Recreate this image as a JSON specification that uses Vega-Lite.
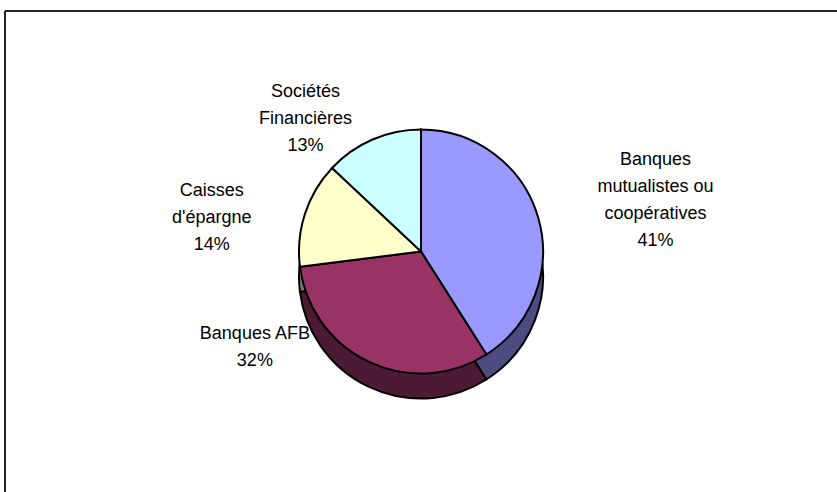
{
  "$schema": "https://vega.github.io/schema/vega-lite/v6.json",
  "width": 832,
  "height": 481,
  "padding": {"left": 5, "top": 11, "right": 0, "bottom": 0},
  "autosize": {"type": "none"},
  "background": "white",
  "config": {
    "view": {"stroke": null},
    "text": {"font": "Liberation Sans", "fontSize": 18, "lineHeight": 27, "lineBreak": "\n", "align": "center", "baseline": "middle", "color": "black"}
  },
  "data": {
    "values": [
      {"cat": "Banques mutualistes ou coopératives", "value": 41, "n": 1, "label": "Banques\nmutualistes ou\ncoopératives\n41%"},
      {"cat": "Banques AFB", "value": 32, "n": 2, "label": "Banques AFB\n32%"},
      {"cat": "Caisses d'épargne", "value": 14, "n": 3, "label": "Caisses\nd'épargne\n14%"},
      {"cat": "Sociétés Financières", "value": 13, "n": 4, "label": "Sociétés\nFinancières\n13%"}
    ]
  },
  "layer": [
    {
      "data": {"values": [{"x0": 0, "x1": 1, "y0": 0, "y1": 1}]},
      "mark": {"type": "rule", "stroke": "#222222", "strokeWidth": 2},
      "encoding": {
        "x": {"field": "x0", "type": "quantitative", "axis": null, "scale": {"domain": [0, 1], "nice": false, "zero": false}},
        "x2": {"field": "x1"},
        "y": {"field": "y1", "type": "quantitative", "axis": null, "scale": {"domain": [0, 1], "nice": false, "zero": false}}
      }
    },
    {
      "data": {"values": [{"x0": 0, "x1": 1, "y0": 0, "y1": 1}]},
      "mark": {"type": "rule", "stroke": "#222222", "strokeWidth": 2},
      "encoding": {
        "x": {"field": "x0", "type": "quantitative", "axis": null},
        "y": {"field": "y1", "type": "quantitative", "axis": null},
        "y2": {"field": "y0"}
      }
    },
    {
      "mark": {"type": "arc", "outerRadius": 122, "yOffset": 25, "stroke": "black", "strokeWidth": 2},
      "encoding": {
        "theta": {"field": "value", "type": "quantitative", "stack": true},
        "order": {"field": "n", "type": "quantitative"},
        "color": {
          "field": "cat", "type": "nominal", "legend": null,
          "scale": {
            "domain": ["Banques mutualistes ou coopératives", "Banques AFB", "Caisses d'épargne", "Sociétés Financières"],
            "range": ["#4C4C80", "#4D1A33", "#80806A", "#6A8080"]
          }
        }
      }
    },
    {
      "mark": {"type": "arc", "outerRadius": 122, "stroke": "black", "strokeWidth": 2},
      "encoding": {
        "theta": {"field": "value", "type": "quantitative", "stack": true},
        "order": {"field": "n", "type": "quantitative"},
        "fill": {
          "field": "cat", "type": "nominal", "legend": null,
          "scale": {
            "domain": ["Banques mutualistes ou coopératives", "Banques AFB", "Caisses d'épargne", "Sociétés Financières"],
            "range": ["#9999FF", "#993366", "#FFFFCC", "#CCFFFF"]
          }
        }
      }
    },
    {
      "mark": {"type": "text", "radius": 240, "dx": 4, "dy": -25},
      "encoding": {
        "theta": {"field": "value", "type": "quantitative", "stack": true},
        "order": {"field": "n", "type": "quantitative"},
        "text": {"condition": {"test": "datum.n == 1", "field": "label"}, "value": ""}
      }
    },
    {
      "mark": {"type": "text", "radius": 160, "dx": -98, "dy": -62},
      "encoding": {
        "theta": {"field": "value", "type": "quantitative", "stack": true},
        "order": {"field": "n", "type": "quantitative"},
        "text": {"condition": {"test": "datum.n == 2", "field": "label"}, "value": ""}
      }
    },
    {
      "mark": {"type": "text", "radius": 200, "dx": -19, "dy": 1},
      "encoding": {
        "theta": {"field": "value", "type": "quantitative", "stack": true},
        "order": {"field": "n", "type": "quantitative"},
        "text": {"condition": {"test": "datum.n == 3", "field": "label"}, "value": ""}
      }
    },
    {
      "mark": {"type": "text", "radius": 160, "dx": -52, "dy": -13},
      "encoding": {
        "theta": {"field": "value", "type": "quantitative", "stack": true},
        "order": {"field": "n", "type": "quantitative"},
        "text": {"condition": {"test": "datum.n == 4", "field": "label"}, "value": ""}
      }
    }
  ],
  "resolve": {"scale": {"color": "independent", "fill": "independent"}}
}
